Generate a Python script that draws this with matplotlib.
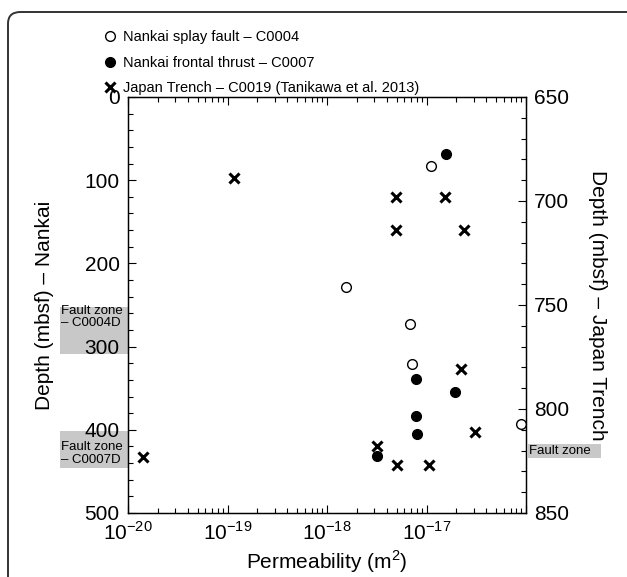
import numpy as np
import matplotlib.pyplot as plt
import matplotlib.ticker as mticker
import matplotlib.transforms as mtransforms
from matplotlib.patches import Rectangle, FancyBboxPatch

plt.rcParams["font.family"] = ["Liberation Sans", "DejaVu Sans"]

# -------------------------------------------------------
# Daten
# -------------------------------------------------------
# Nankai splay fault – C0004 (linke Achse, Tiefe mbsf)
c0004_perm = [1.12e-17, 1.55e-18, 6.8e-18, 7.2e-18, 8.9e-17]
c0004_depth = [83, 228, 273, 321, 393]

# Nankai frontal thrust – C0007 (linke Achse)
c0007_perm = [1.58e-17, 7.9e-18, 1.95e-17, 7.9e-18, 8.1e-18, 3.2e-18]
c0007_depth = [68, 339, 355, 383, 405, 431]

# Japan Trench – C0019 (rechte Achse)
c0019_perm = [1.17e-19, 4.9e-18, 1.55e-17, 4.9e-18, 2.4e-17, 2.2e-17,
              3.1e-17, 3.2e-18, 5.1e-18, 1.05e-17, 1.4e-20]
c0019_depth = [689, 698, 698, 714, 714, 781, 811, 818, 827, 827, 823]

# Störungszonen (Tiefenbereiche)
fz_c0004d = (252, 309)
fz_c0007d = (402, 446)
fz_c0019 = (817, 823.5)

legend_labels = ["Nankai splay fault – C0004",
                 "Nankai frontal thrust – C0007",
                 "Japan Trench – C0019 (Tanikawa et al. 2013)"]

# -------------------------------------------------------
# Plot
# -------------------------------------------------------
W, H = 627, 577
fig = plt.figure(figsize=(W / 100, H / 100), dpi=100)
ax = fig.add_axes([128 / W, 1 - 513 / H, 398 / W, 416 / H])
ax2 = ax.twinx()

# Rahmen (abgerundet, unten/rechts abgeschnitten)
frame = FancyBboxPatch((8 / W, -0.1), 640 / W, (H - 12) / H + 0.1,
                       boxstyle="round,pad=0,rounding_size=0.02",
                       transform=fig.transFigure, fill=False,
                       edgecolor="#333333", linewidth=1.4)
fig.patches.append(frame)

h1, = ax.plot(c0004_perm, c0004_depth, "o", mfc="white", mec="black",
              mew=1.0, ms=7, linestyle="none", clip_on=False, zorder=3)
h2, = ax.plot(c0007_perm, c0007_depth, "o", mfc="black", mec="black",
              ms=7, linestyle="none", clip_on=False, zorder=3)
h3, = ax2.plot(c0019_perm, c0019_depth, "x", color="black", mew=2.2,
               ms=7.5, linestyle="none", clip_on=False, zorder=3)

ax.set_xscale("log")
ax.set_xlim(1e-20, 1e-16)
ax.set_ylim(500, 0)
ax2.set_ylim(850, 650)

ax.xaxis.set_major_locator(mticker.FixedLocator([1e-20, 1e-19, 1e-18, 1e-17, 1e-16]))
ax.xaxis.set_major_formatter(mticker.FixedFormatter(
    [r"10$^{\mathregular{-20}}$", r"10$^{\mathregular{-19}}$",
     r"10$^{\mathregular{-18}}$", r"10$^{\mathregular{-17}}$", ""]))
ax.xaxis.set_minor_locator(mticker.LogLocator(base=10, subs=np.arange(2, 10), numticks=20))
ax.xaxis.set_minor_formatter(mticker.NullFormatter())

ax.yaxis.set_major_locator(mticker.MultipleLocator(100))
ax.yaxis.set_minor_locator(mticker.MultipleLocator(20))
ax2.yaxis.set_major_locator(mticker.MultipleLocator(50))
ax2.yaxis.set_minor_locator(mticker.MultipleLocator(10))

for a in (ax, ax2):
    for s in a.spines.values():
        s.set_linewidth(0.9)
ax.tick_params(which="both", direction="in", top=True, labelsize=15, pad=6, width=0.8)
ax.tick_params(which="major", length=6)
ax.tick_params(which="minor", length=3.5)
ax2.tick_params(which="both", direction="in", labelsize=15, pad=6, width=0.8)
ax2.tick_params(which="major", length=6)
ax2.tick_params(which="minor", length=3.5)

ax.set_xlabel("Permeability (m$^{\\mathregular{2}}$)", fontsize=15, labelpad=3)
ax.set_ylabel("Depth (mbsf) – Nankai", fontsize=15, labelpad=22)
ax2.set_ylabel("Depth (mbsf) – Japan Trench", fontsize=15, rotation=270, labelpad=27)

# Graue Kästen für Störungszonen
grey = "#c8c8c8"
tr1 = mtransforms.blended_transform_factory(ax.transAxes, ax.transData)
for (d0, d1) in [fz_c0004d, fz_c0007d]:
    ax.add_patch(Rectangle((-68 / 398, d0), 68 / 398, d1 - d0, transform=tr1,
                           facecolor=grey, edgecolor="none", clip_on=False, zorder=0.5))
ax.text(-67 / 398, fz_c0004d[0] - 2, "Fault zone\n– C0004D", transform=tr1,
        fontsize=9.5, ha="left", va="top", linespacing=1.05, zorder=0.6)
ax.text(-67 / 398, fz_c0007d[1] - 3, "Fault zone\n– C0007D", transform=tr1,
        fontsize=9.5, ha="left", va="bottom", linespacing=1.05, zorder=0.6)

tr2 = mtransforms.blended_transform_factory(ax2.transAxes, ax2.transData)
ax2.add_patch(Rectangle((1 + 2 / 398, fz_c0019[0]), 73 / 398, fz_c0019[1] - fz_c0019[0],
                        transform=tr2, facecolor=grey, edgecolor="none",
                        clip_on=False, zorder=0.5))
ax2.text(1 + 3 / 398, sum(fz_c0019) / 2, "Fault zone", transform=tr2,
         fontsize=9.5, ha="left", va="center", zorder=0.6)

fig.legend([h1, h2, h3], legend_labels, loc="upper left",
           bbox_to_anchor=(104 / W, 1 - 30 / H), frameon=False, fontsize=10.5,
           handlelength=0.8, handletextpad=0.5, labelspacing=0.8,
           borderpad=0, borderaxespad=0)

fig.savefig("out.png", dpi=100)
